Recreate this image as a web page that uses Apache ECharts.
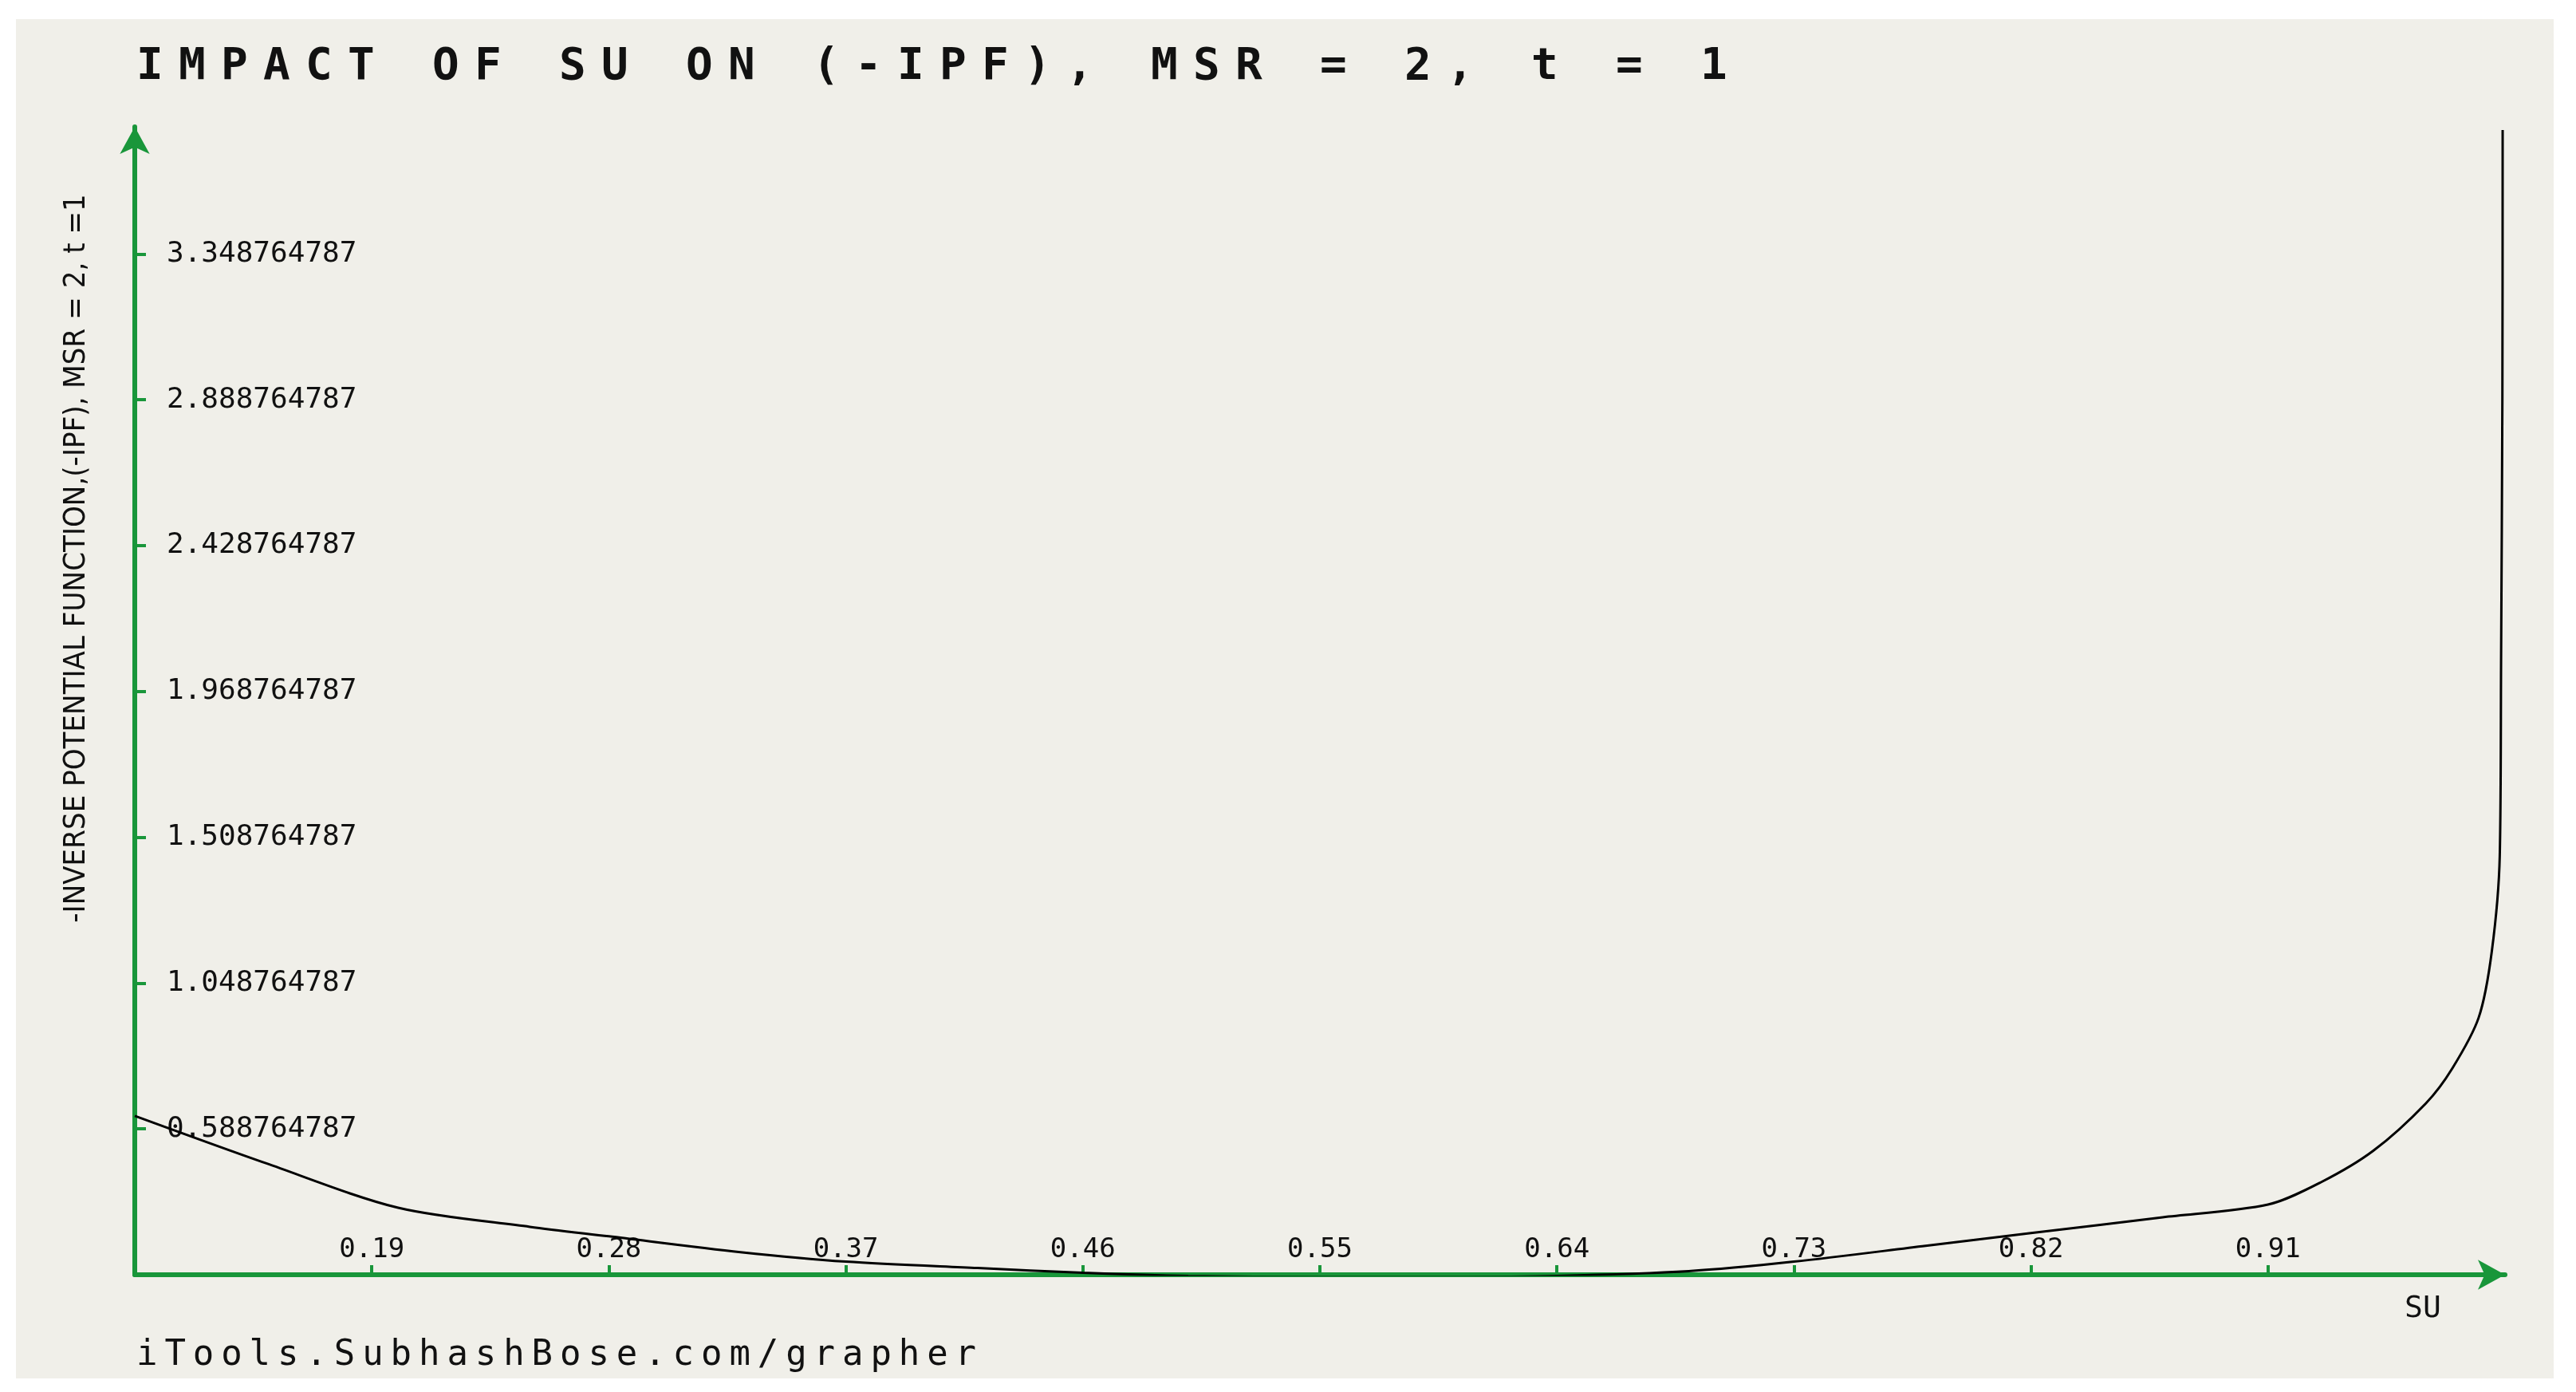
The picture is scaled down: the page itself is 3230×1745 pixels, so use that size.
<!DOCTYPE html>
<html>
<head>
<meta charset="utf-8">
<script src="https://cdn.jsdelivr.net/npm/echarts@6/dist/echarts.min.js"></script>
<style>html,body{margin:0;padding:0;background:#fff;}#chart{width:3230px;height:1745px;}</style>
</head>
<body>
<div id="chart"></div>
<script>
// SU values and -IPF values
var su = [0.1, 0.15, 0.2, 0.25, 0.28, 0.33, 0.37, 0.42, 0.46, 0.5, 0.55, 0.6, 0.64, 0.69, 0.73, 0.78, 0.82, 0.87, 0.91, 0.93, 0.95, 0.97, 0.98, 0.99, 0.995, 0.998, 0.9985, 0.999, 0.9991];
var ipf = [0.63, 0.48, 0.34, 0.28, 0.25, 0.2, 0.17, 0.15, 0.135, 0.125, 0.122, 0.122, 0.125, 0.14, 0.17, 0.22, 0.26, 0.31, 0.35, 0.42, 0.52, 0.67, 0.78, 0.94, 1.15, 1.45, 2.06, 2.9, 3.74];
var yTickLabels = ['0.128764787', '0.588764787', '1.048764787', '1.508764787', '1.968764787', '2.428764787', '2.888764787', '3.348764787'];
var titleText = 'IMPACT OF SU ON (-IPF), MSR = 2, t = 1';
var yName = '-INVERSE POTENTIAL FUNCTION,(-IPF), MSR = 2, t =1';
var xName = 'SU';
var footer = 'iTools.SubhashBose.com/grapher';

var green = '#19963a';
var mono = 'DejaVu Sans Mono';
var yMin = 0.128764787, yStep = 0.46;
var pts = [];
for (var i = 0; i < su.length; i++) {
    pts.push([su[i], ipf[i]]);
}

// spaced-out monospace text, one char per element
function spaced(str, x, y, step, font) {
    var out = [];
    for (var i = 0; i < str.length; i++) {
        if (str[i] === ' ') continue;
        out.push({ type: 'text', x: x + i * step, y: y, style: { text: str[i], font: font, fill: '#111' } });
    }
    return out;
}

var graphics = [
    { type: 'rect', z: -10, shape: { x: 20, y: 24, width: 3182, height: 1704 }, style: { fill: '#f0efe9' } },
    { type: 'text', left: 3015, top: 1622, style: { text: xName, font: '38px ' + mono, fill: '#111' } },
    { type: 'text', x: 96, y: 700, rotation: Math.PI / 2, style: { text: yName, font: '38px DejaVu Sans Condensed', fill: '#111', align: 'center', verticalAlign: 'middle' } }
];
graphics = graphics.concat(spaced(titleText, 171, 56, 53, 'bold 56px ' + mono));
graphics = graphics.concat(spaced(footer, 171, 1678, 35.4, '44px ' + mono));

var myChart = echarts.init(document.getElementById('chart'));
var option = {
    backgroundColor: '#ffffff',
    animation: false,
    graphic: graphics,
    grid: { left: 169, right: 89, top: 159, bottom: 147 },
    xAxis: {
        type: 'value',
        min: 0.1, max: 1.0, interval: 0.09,
        splitLine: { show: false },
        axisLine: { onZero: false, lineStyle: { color: green, width: 6 }, symbol: ['none', 'arrow'], symbolSize: [28, 34] },
        axisTick: { inside: true, length: 12, lineStyle: { color: green, width: 4 } },
        axisLabel: {
            inside: true, showMinLabel: false, showMaxLabel: false, margin: 14,
            color: '#111', fontFamily: mono, fontSize: 34,
            formatter: function (v) { return v.toFixed(2); }
        }
    },
    yAxis: {
        type: 'value',
        min: yMin, max: 3.75, interval: yStep,
        splitLine: { show: false },
        axisLine: { onZero: false, lineStyle: { color: green, width: 6 }, symbol: ['none', 'arrow'], symbolSize: [28, 34] },
        axisTick: { inside: true, length: 14, lineStyle: { color: green, width: 4 } },
        axisLabel: {
            inside: true, showMinLabel: false, showMaxLabel: false, margin: 40,
            color: '#111', fontFamily: mono, fontSize: 36,
            formatter: function (v) { return yTickLabels[Math.round((v - yMin) / yStep)] || ''; }
        }
    },
    series: [{
        type: 'line',
        data: pts,
        showSymbol: false,
        smooth: 0.3,
        lineStyle: { color: '#000', width: 3 }
    }]
};
myChart.setOption(option);
</script>
</body>
</html>
